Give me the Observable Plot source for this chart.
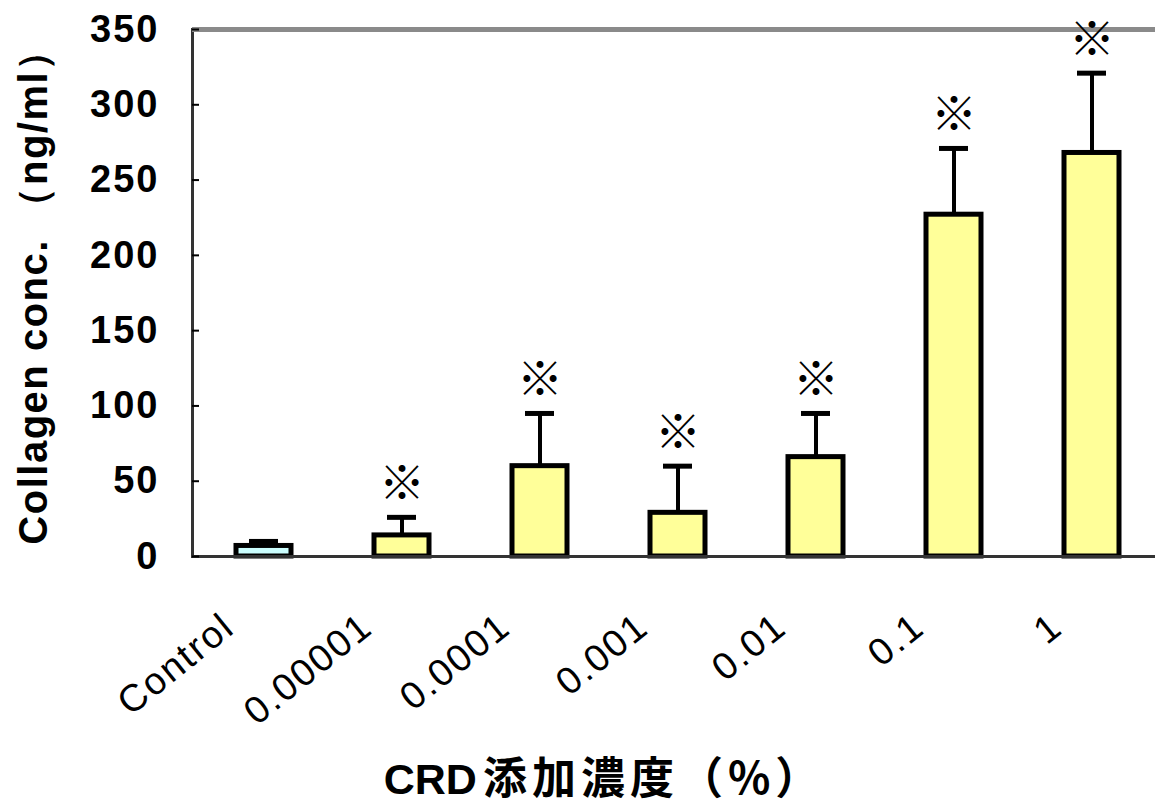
<!DOCTYPE html>
<html><head><meta charset="utf-8">
<script src="https://cdn.jsdelivr.net/npm/d3@7"></script>
<script src="https://cdn.jsdelivr.net/npm/@observablehq/plot@0.6"></script>
<style>
html,body{margin:0;padding:0;background:#fff;overflow:hidden;}
#chart svg{display:block;}
[aria-label="y-axis tick label"] text{letter-spacing:2px;}
[aria-label="x-axis tick label"] text{letter-spacing:2px;}
#cap{height:60px;line-height:60px;text-align:center;font-weight:bold;white-space:nowrap;padding-left:53px;color:#000;}
</style></head><body>
<div id="chart"></div>
<div id="cap"><span style="font-family:'Liberation Sans',Arial,sans-serif;font-size:43px;">CRD</span><span style="font-family:'Noto Sans CJK JP';font-size:44px;letter-spacing:5px;margin-left:6px;">添加濃度（%）</span></div>
<script>
const categories = ["Control", "0.00001", "0.0001", "0.001", "0.01", "0.1", "1"];
const groups = ["control", "CRD", "CRD", "CRD", "CRD", "CRD", "CRD"];
const means = [7, 14, 60, 29, 66, 227, 268];
const errors = [3, 12, 35, 31, 29, 44, 53];
const significant = [false, true, true, true, true, true, true];
const yTicks = [0, 50, 100, 150, 200, 250, 300, 350];
const yTitle = "Collagen conc. （ng/ml）";
const sigMark = "※";

const rows = categories.map((c, i) => ({category: c, group: groups[i], mean: means[i], err: errors[i], sig: significant[i]}));

const chart = Plot.plot({
  width: 1155,
  height: 745,
  marginLeft: 192,
  marginRight: -8,
  marginTop: 29,
  marginBottom: 189,
  style: {fontFamily: "'Liberation Sans', Arial, sans-serif", color: "#000", background: "#fff", overflow: "hidden"},
  x: {domain: categories, paddingInner: 0.6, paddingOuter: 0.3, label: null},
  y: {domain: [0, 350], label: null},
  color: {domain: ["control", "CRD"], range: ["#ccffff", "#ffff99"]},
  marks: [
    Plot.frame({stroke: "#333", strokeWidth: 3}),
    Plot.ruleY([350], {stroke: "#8a8a8a", strokeWidth: 5}),
    Plot.ruleX(rows, {x: "category", y1: "mean", y2: d => d.mean + d.err, stroke: "#000", strokeWidth: 4}),
    Plot.tickY(rows, {x: "category", y: d => d.mean + d.err, stroke: "#000", strokeWidth: 5, insetLeft: 13, insetRight: 13}),
    Plot.barY(rows, {x: "category", y: "mean", fill: "group", stroke: "#000", strokeWidth: 5}),
    Plot.ruleY([0], {stroke: "#333", strokeWidth: 3}),
    Plot.text(rows.filter(d => d.sig), {x: "category", y: d => d.mean + d.err, text: () => sigMark, dy: -33, fontSize: 46, fontFamily: "'Noto Sans CJK JP'", fill: "#000"}),
    Plot.axisY({ticks: yTicks, tickSize: 0, tickPadding: 33, fontSize: 38, fontWeight: "bold", label: null}),
    Plot.axisY({ticks: yTicks, tickSize: -7, tickFormat: () => "", strokeWidth: 2, label: null}),
    Plot.axisX({tickSize: 0, tickRotate: -39, tickPadding: 65, dx: -35, fontSize: 38, label: null}),
    Plot.text([yTitle], {text: d => d, frameAnchor: "left", textAnchor: "middle", rotate: -90, dx: -158, dy: -6, fontSize: 40, fontWeight: "bold", fill: "#000"})
  ]
});
chart.querySelectorAll("g[aria-label='text'] text").forEach(t => { if (t.textContent === yTitle) t.style.letterSpacing = "1.5px"; });
document.getElementById("chart").appendChild(chart);
</script>
</body></html>
